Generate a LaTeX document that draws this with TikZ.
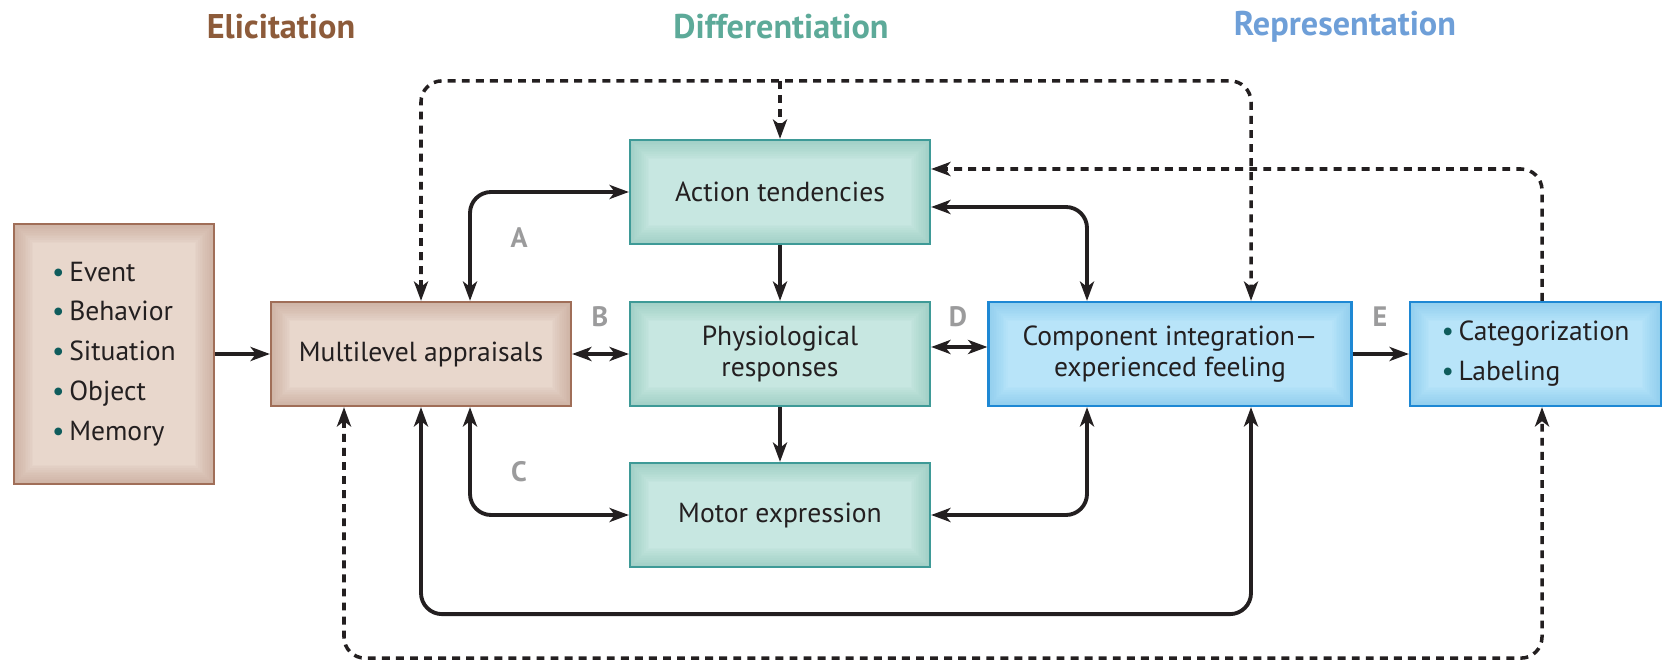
\documentclass[tikz,border=0pt]{standalone}
\usepackage{fontspec}
\setmainfont{PT Sans}
\usetikzlibrary{arrows.meta,calc}

\definecolor{elicitc}{HTML}{8D5B3A}
\definecolor{diffc}{HTML}{5DAA99}
\definecolor{reprc}{HTML}{6E9FD8}
\definecolor{brownfill}{HTML}{E8D7CC}
\definecolor{brownglow}{HTML}{B8927F}
\definecolor{brownline}{HTML}{A06E58}
\definecolor{tealfill}{HTML}{C7E7E1}
\definecolor{tealglow}{HTML}{7DBDB0}
\definecolor{tealline}{HTML}{3E9A97}
\definecolor{bluefill}{HTML}{B8E4F9}
\definecolor{blueglow}{HTML}{6EC0EA}
\definecolor{blueline}{HTML}{1E88D4}
\definecolor{lettergray}{HTML}{9B9B9C}
\definecolor{dotteal}{HTML}{0E5C5C}
\definecolor{inkc}{HTML}{231F20}

\newcommand{\dotitem}{\textcolor{dotteal}{\textbullet}\,}

\tikzset{
    box/.style={draw, line width=1.3pt, inner sep=0pt, align=center,
        minimum width=6cm, minimum height=2.08cm, text=inkc,
        font=\fontsize{15.7}{17.5}\selectfont},
    glow/.style={path picture={
        \foreach \w in {2,4,...,22}
            \draw[#1, line width=\w pt, opacity=0.05]
                (path picture bounding box.south west) rectangle (path picture bounding box.north east);
    }},
    elicitbox/.style={box, fill=brownfill, draw=brownline, glow=brownglow},
    diffbox/.style={box, fill=tealfill, draw=tealline, glow=tealglow},
    reprbox/.style={box, fill=bluefill, draw=blueline, glow=blueglow},
    listtext/.style={align=left, font=\fontsize{15.7}{22.7}\selectfont},
    heading/.style={font=\bfseries\fontsize{19.5}{23}\selectfont},
    letter/.style={font=\bfseries\fontsize{16}{19}\selectfont, text=lettergray},
    link/.style={draw=inkc, line width=2.2pt, rounded corners=12pt},
    dashlink/.style={draw=inkc, line width=2pt, rounded corners=12pt,
        dash pattern=on 4.5pt off 3.5pt},
    >={Stealth[length=11pt,width=8pt,inset=3pt]}
}

\begin{document}
\begin{tikzpicture}[x=0.02cm, y=-0.02cm]
    \useasboundingbox (0,0) rectangle (1662,661);

    % headings
    \node[heading, text=elicitc] (hElicit) at (281,27) {Elicitation};
    \node[heading, text=diffc] (hDiff) at (781,27) {Differentiation};
    \node[heading, text=reprc] (hRepr) at (1345,27) {Representation};

    % boxes
    \node[elicitbox, listtext, minimum width=4cm, minimum height=5.2cm] (stim) at (114,354)
        {\dotitem Event\\ \dotitem Behavior\\ \dotitem Situation\\ \dotitem Object\\ \dotitem Memory};
    \node[elicitbox] (appr) at (421,354) {Multilevel appraisals};
    \node[diffbox] (act) at (780,192) {Action tendencies};
    \node[diffbox] (phys) at (780,354) {Physiological\\responses};
    \node[diffbox] (motor) at (780,515) {Motor expression};
    \node[reprbox, minimum width=7.26cm] (comp) at (1170,354)
        {Component integration\textemdash\\experienced feeling};
    \node[reprbox, listtext, minimum width=5.02cm] (cat) at (1535.5,354)
        {\dotitem Categorization\\ \dotitem Labeling};

    % letters
    \node[letter] (lA) at (519,238) {A};
    \node[letter] (lB) at (600,317) {B};
    \node[letter] (lC) at (519,472) {C};
    \node[letter] (lD) at (958,317) {D};
    \node[letter] (lE) at (1380,317) {E};

    % solid connectors
    \draw[link, ->] (stim) -- (appr);
    \draw[link, <->] (appr) -- (phys);
    \draw[link, <->] ($(appr.north)+(49,0)$) |- (act.west);
    \draw[link, <->] ($(appr.south)+(49,0)$) |- (motor.west);
    \draw[link, ->] (act) -- (phys);
    \draw[link, ->] (phys) -- (motor);
    \draw[link, <->] ($(phys.east)+(0,-7)$) -- ($(comp.west)+(0,-7)$);
    \draw[link, ->] (comp) -- (cat);
    \draw[link, <->] ($(act.east)+(0,15)$) -| ($(comp.north)+(-83,0)$);
    \draw[link, <->] (motor.east) -| ($(comp.south)+(-83,0)$);
    \draw[link, <->] (appr.south) -- ++(0,207) -| ($(comp.south)+(81,0)$);

    % dashed connectors
    \draw[dashlink, <->] (appr.north) -- ++(0,-220) -| ($(comp.north)+(81,0)$);
    \draw[dashlink, ->] ($(act.north)+(0,-58)$) -- (act.north);
    \draw[dashlink, ->] ($(cat.north)+(6.5,0)$) |- ($(act.east)+(0,-23)$);
    \draw[dashlink, <->] ($(appr.south)+(-77,0)$) -- ++(0,251) -| ($(cat.south)+(6.5,0)$);
\end{tikzpicture}
\end{document}
